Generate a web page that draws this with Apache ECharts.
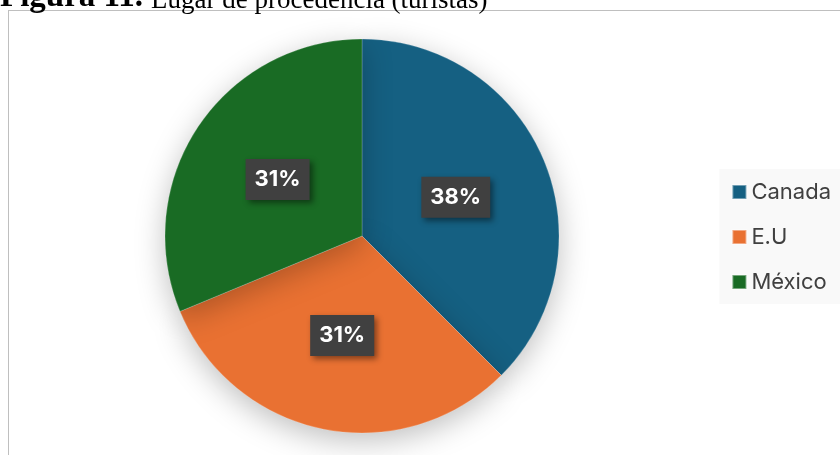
<!DOCTYPE html>
<html>
<head>
<meta charset="utf-8">
<script src="https://cdn.jsdelivr.net/npm/echarts@6/dist/echarts.min.js"></script>
<style>
  html, body { margin: 0; padding: 0; background: #fff; }
  #wrap { position: relative; width: 840px; height: 455px; overflow: hidden; }
  #frame { position: absolute; left: 8px; top: 10px; width: 840px; height: 480px; border: 1px solid #bfbfbf; box-sizing: border-box; }
  #chart { position: absolute; left: 0; top: 0; width: 840px; height: 455px; }
</style>
</head>
<body>
<div id="wrap">
  <div id="frame"></div>
  <div id="chart"></div>
</div>
<script>
// datos
const categories = ['Canada', 'E.U', 'México'];
const values = [6, 5, 5];
const colors = ['#156082', '#E97132', '#196B24'];
const titleBold = 'Figura 11.';
const titleText = 'Lugar de procedencia (turistas)';

const chart = echarts.init(document.getElementById('chart'));

chart.setOption({
  // el título queda cortado por arriba, como en la captura original
  graphic: [{
    type: 'text',
    x: 0,
    y: -19,
    z: 10,
    style: {
      text: '{b|' + titleBold + '}{n|' + titleText + '}',
      rich: {
        b: { fontFamily: 'Liberation Serif', fontSize: 33, fontWeight: 'bold', fill: '#000', verticalAlign: 'bottom' },
        n: { fontFamily: 'Liberation Serif', fontSize: 27, fontWeight: 'normal', fill: '#000', verticalAlign: 'bottom', padding: [0, 0, 0, 8] }
      }
    }
  }],
  legend: {
    orient: 'vertical',
    right: 0,
    top: 169,
    itemWidth: 14,
    itemHeight: 14,
    itemGap: 23,
    icon: 'rect',
    padding: [12, 9, 11, 12],
    backgroundColor: '#f9f9f9',
    textStyle: { fontFamily: 'Inter', fontSize: 22, color: '#404040' },
    data: categories
  },
  series: [{
    type: 'pie',
    center: [362, 236],
    radius: 197,
    startAngle: 90,
    clockwise: true,
    color: colors,
    itemStyle: {
      borderColor: 'rgba(255,255,255,0.4)',
      borderWidth: 0.5,
      shadowBlur: 30,
      shadowOffsetY: 8,
      shadowColor: 'rgba(0,0,0,0.25)'
    },
    label: {
      position: 'inside',
      formatter: (p) => Math.round(p.percent) + '%',
      fontFamily: 'Inter',
      fontSize: 22,
      fontWeight: 'bold',
      color: '#fff',
      backgroundColor: '#404040',
      padding: [10, 9, 9, 9],
      shadowBlur: 6,
      shadowOffsetX: 3,
      shadowOffsetY: 3,
      shadowColor: 'rgba(0,0,0,0.45)'
    },
    labelLine: { show: false },
    emphasis: { disabled: true },
    data: categories.map((c, i) => ({ name: c, value: values[i] }))
  }]
});
</script>
</body>
</html>
